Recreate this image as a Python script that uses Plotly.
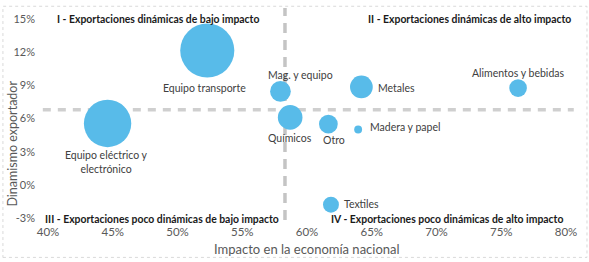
import plotly.graph_objects as go

# ---- data ----
sectores = ["Equipo transporte", "Equipo eléctrico y<br>electrónico", "Mag. y equipo", "Químicos",
            "Metales", "Otro", "Madera y papel", "Textiles", "Alimentos y bebidas"]
impacto = [52.3, 44.6, 57.95, 58.7, 64.2, 61.65, 63.95, 61.85, 76.3]      # % x
dinamismo = [12.15, 5.55, 8.45, 6.1, 8.85, 5.5, 5.0, -1.8, 8.75]          # % y
tamano = [30.0, 23.0, 4.4, 6.2, 5.3, 3.6, 0.64, 2.6, 3.2]                 # bubble size
corte_x = 58.3
corte_y = 6.8
x_ticks = [40, 45, 50, 55, 60, 65, 70, 75, 80]
y_ticks = [-3, 0, 3, 6, 9, 12, 15]
cuadrantes = ["I - Exportaciones dinámicas de bajo impacto",
              "II - Exportaciones dinámicas de alto impacto",
              "III - Exportaciones poco dinámicas de bajo impacto",
              "IV - Exportaciones poco dinámicas de alto impacto"]

# label offsets (px): dx, dy (plotly up positive), xanchor
label_style = [(-3, -37, "center"), (-1, -39, "center"), (20, 16, "center"), (0, -21, "center"),
               (15, -1, "left"), (6, -16, "center"), (10, 3, "left"), (11, 1, "left"), (0, 15, "center")]

FONT = "Lato"
BLUE = "#58BBE9"

fig = go.Figure()
fig.add_trace(go.Scatter(
    x=impacto, y=dinamismo, mode="markers",
    marker=dict(size=tamano, sizemode="area", sizeref=0.0205, color=BLUE, line=dict(width=0), opacity=1),
    hoverinfo="skip", showlegend=False, cliponaxis=False))

shapes = [
    dict(type="line", xref="paper", yref="y", x0=-0.01, x1=1.015, y0=corte_y, y1=corte_y,
         line=dict(color="#CFCFCF", width=3.5, dash="8px,7px"), layer="below"),
    dict(type="line", xref="x", yref="paper", x0=corte_x, x1=corte_x, y0=-0.01, y1=1.055,
         line=dict(color="#C4C4C4", width=3.5, dash="10px,7px"), layer="below"),
    dict(type="rect", xref="paper", yref="paper", x0=-0.087, x1=1.0405, y0=-0.198, y1=1.064,
         line=dict(color="#D9D9D9", width=1, dash="dot")),
]

annotations = []
for name, x, y, (dx, dy, xa) in zip(sectores, impacto, dinamismo, label_style):
    annotations.append(dict(x=x, y=y, xref="x", yref="y", text=name, showarrow=False,
                            xshift=dx, yshift=dy, xanchor=xa, yanchor="middle", align="center",
                            font=dict(family=FONT, size=10.5, color="#404040")))

qpos = [(0.0135, 1.0, "left"), (1.0135, 1.0, "right"), (-0.0097, -0.005, "left"), (0.998, -0.005, "right")]
for txt, (px, py, xa) in zip(cuadrantes, qpos):
    annotations.append(dict(x=px, y=py, xref="paper", yref="paper", text="<b>" + txt + "</b>",
                            showarrow=False, xanchor=xa, yanchor="middle",
                            font=dict(family=FONT, size=10.4, color="#1A1A1A")))

annotations.append(dict(x=0.5, y=-0.155, xref="paper", yref="paper", text="Impacto en la economía nacional",
                        showarrow=False, xanchor="center", yanchor="middle",
                        font=dict(family=FONT, size=13, color="#595959")))
annotations.append(dict(x=-0.0875, y=0.375, xref="paper", yref="paper", text="Dinamismo exportador",
                        showarrow=False, textangle=-90, xanchor="left", yanchor="middle",
                        font=dict(family=FONT, size=12.5, color="#595959")))

fig.update_layout(
    width=589, height=262, margin=dict(l=48, r=23, t=16, b=44),
    paper_bgcolor="white", plot_bgcolor="white",
    shapes=shapes, annotations=annotations,
    xaxis=dict(range=[40, 80], tickvals=x_ticks, ticktext=[f"{v}%" for v in x_ticks],
               showgrid=False, zeroline=False, showline=False, ticks="", ticklabelstandoff=5,
               tickfont=dict(family=FONT, size=11.5, color="#595959")),
    yaxis=dict(range=[-3, 15], tickvals=y_ticks, ticktext=[f"{v}%" for v in y_ticks],
               showgrid=False, zeroline=False, showline=False, ticks="", ticklabelstandoff=12,
               tickfont=dict(family=FONT, size=11, color="#595959")),
)
fig.write_html("out.html", config={"displayModeBar": False},
               post_script="document.body.style.margin='0';")
